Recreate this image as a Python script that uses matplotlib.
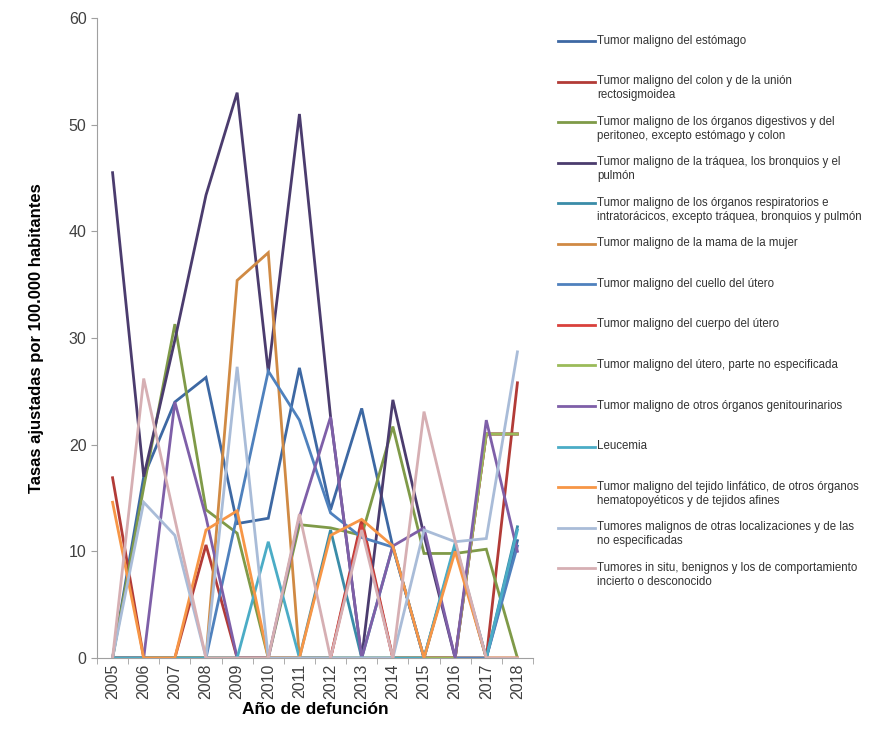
import matplotlib
matplotlib.use("Agg")
import matplotlib.pyplot as plt

plt.rcParams['font.family'] = ['Liberation Sans Narrow', 'Liberation Sans', 'DejaVu Sans']

years = ['2005', '2006', '2007', '2008', '2009', '2010', '2011', '2012', '2013', '2014', '2015', '2016', '2017', '2018']

labels = [
    "Tumor maligno del estómago",
    "Tumor maligno del colon y de la unión\nrectosigmoidea",
    "Tumor maligno de los órganos digestivos y del\nperitoneo, excepto estómago y colon",
    "Tumor maligno de la tráquea, los bronquios y el\npulmón",
    "Tumor maligno de los órganos respiratorios e\nintratorácicos, excepto tráquea, bronquios y pulmón",
    "Tumor maligno de la mama de la mujer",
    "Tumor maligno del cuello del útero",
    "Tumor maligno del cuerpo del útero",
    "Tumor maligno del útero, parte no especificada",
    "Tumor maligno de otros órganos genitourinarios",
    "Leucemia",
    "Tumor maligno del tejido linfático, de otros órganos\nhematopoyéticos y de tejidos afines",
    "Tumores malignos de otras localizaciones y de las\nno especificadas",
    "Tumores in situ, benignos y los de comportamiento\nincierto o desconocido",
]

estomago = [0, 17.0, 24.0, 26.3, 12.6, 13.1, 27.2, 13.9, 23.4, 10.4, 0, 10.4, 0, 11.0]
colon = [16.9, 0, 0, 10.6, 0, 0, 0, 0, 13.0, 0, 0, 0, 0, 25.8]
digestivos = [0, 16.0, 31.3, 13.9, 11.7, 0, 12.5, 12.2, 11.5, 21.7, 9.8, 9.8, 10.2, 0]
pulmon = [45.5, 17.0, 29.8, 43.4, 53.0, 26.8, 51.0, 22.6, 0, 24.2, 11.5, 0, 21.0, 21.0]
respiratorios = [0, 0, 0, 0, 0, 0, 0, 12.0, 0, 10.5, 0, 10.5, 0, 12.3]
mama = [0, 0, 0, 0, 35.4, 38.0, 0, 0, 0, 0, 0, 0, 0, 0]
cuello = [0, 0, 0, 0, 13.4, 26.9, 22.3, 13.6, 11.3, 10.4, 0, 0, 0, 10.5]
cuerpo = [0, 0, 0, 0, 0, 0, 0, 0, 12.5, 0, 0, 0, 21.0, 21.0]
utero_ne = [0, 0, 0, 0, 0, 0, 0, 0, 0, 0, 0, 0, 21.0, 21.0]
genitourinarios = [0, 0, 24.0, 13.2, 0, 0, 13.2, 22.6, 0, 10.5, 12.2, 0, 22.3, 10.0]
leucemia = [0, 0, 0, 0, 0, 10.9, 0, 0, 0, 0, 0, 10.8, 0, 12.0]
linfatico = [14.6, 0, 0, 12.0, 13.8, 0, 0, 11.5, 13.0, 10.5, 0, 10.0, 0, 0]
otras = [0, 14.6, 11.5, 0, 27.3, 0, 0, 0, 0, 0, 12.0, 10.9, 11.2, 28.7]
in_situ = [0, 26.2, 13.0, 0, 0, 0, 13.5, 0, 12.0, 0, 23.1, 11.0, 0, 0]

series = [estomago, colon, digestivos, pulmon, respiratorios, mama, cuello,
          cuerpo, utero_ne, genitourinarios, leucemia, linfatico, otras, in_situ]

colors = ['#3D68A3', '#B23B37', '#7F9A48', '#4B3C6E', '#3A8CA8', '#D08A44', '#4F81BD',
          '#D9413C', '#9BBB59', '#7E5FA8', '#4BACC6', '#F79646', '#A9BCD8', '#D6AFB3']

fig = plt.figure(figsize=(8.84, 7.34), dpi=100)
ax = fig.add_axes([97 / 884, 76 / 734, 436 / 884, 640 / 734])

x = list(range(len(years)))
for vals, lab, c in zip(series, labels, colors):
    ax.plot(x, vals, color=c, lw=2.0, label=lab, solid_joinstyle='miter')

ax.set_xlim(-0.5, len(years) - 0.5)
ax.set_ylim(0, 60)
ax.set_yticks(range(0, 61, 10))
ax.set_xticks(x)
ax.set_xticklabels(years, rotation=90, fontsize=11.5, color='#404040')
ax.set_xticks([i + 0.5 for i in range(-1, len(years))], minor=True)
ax.tick_params(axis='x', which='major', length=0, pad=4)
ax.tick_params(axis='x', which='minor', length=4, color='#a0a0a0')
ax.tick_params(axis='y', length=4, color='#a0a0a0', labelsize=11.5, labelcolor='#404040')

for s in ['top', 'right']:
    ax.spines[s].set_visible(False)
for s in ['left', 'bottom']:
    ax.spines[s].set_color('#a0a0a0')

ax.set_ylabel('Tasas ajustadas por 100.000 habitantes', fontsize=12, fontweight='bold', labelpad=18)
ax.set_xlabel('Año de defunción', fontsize=12.5, fontweight='bold', labelpad=2)

# pad single-line labels so every legend slot has the same height
handles, labs = ax.get_legend_handles_labels()
labs = [l if '\n' in l else l + '\n ' for l in labs]
leg = fig.legend(handles, labs, loc='upper left', bbox_to_anchor=(553 / 884, 1 - 30 / 734),
                 frameon=False, fontsize=8.3, labelspacing=1.28, handlelength=3.2,
                 handletextpad=0.2, borderaxespad=0)
for t in leg.get_texts():
    t.set_color('#333333')
for ln in leg.get_lines():
    ln.set_linewidth(2.0)
    ln.set_ydata([y + 5 for y in ln.get_ydata()])

fig.savefig('out.png', dpi=100)
